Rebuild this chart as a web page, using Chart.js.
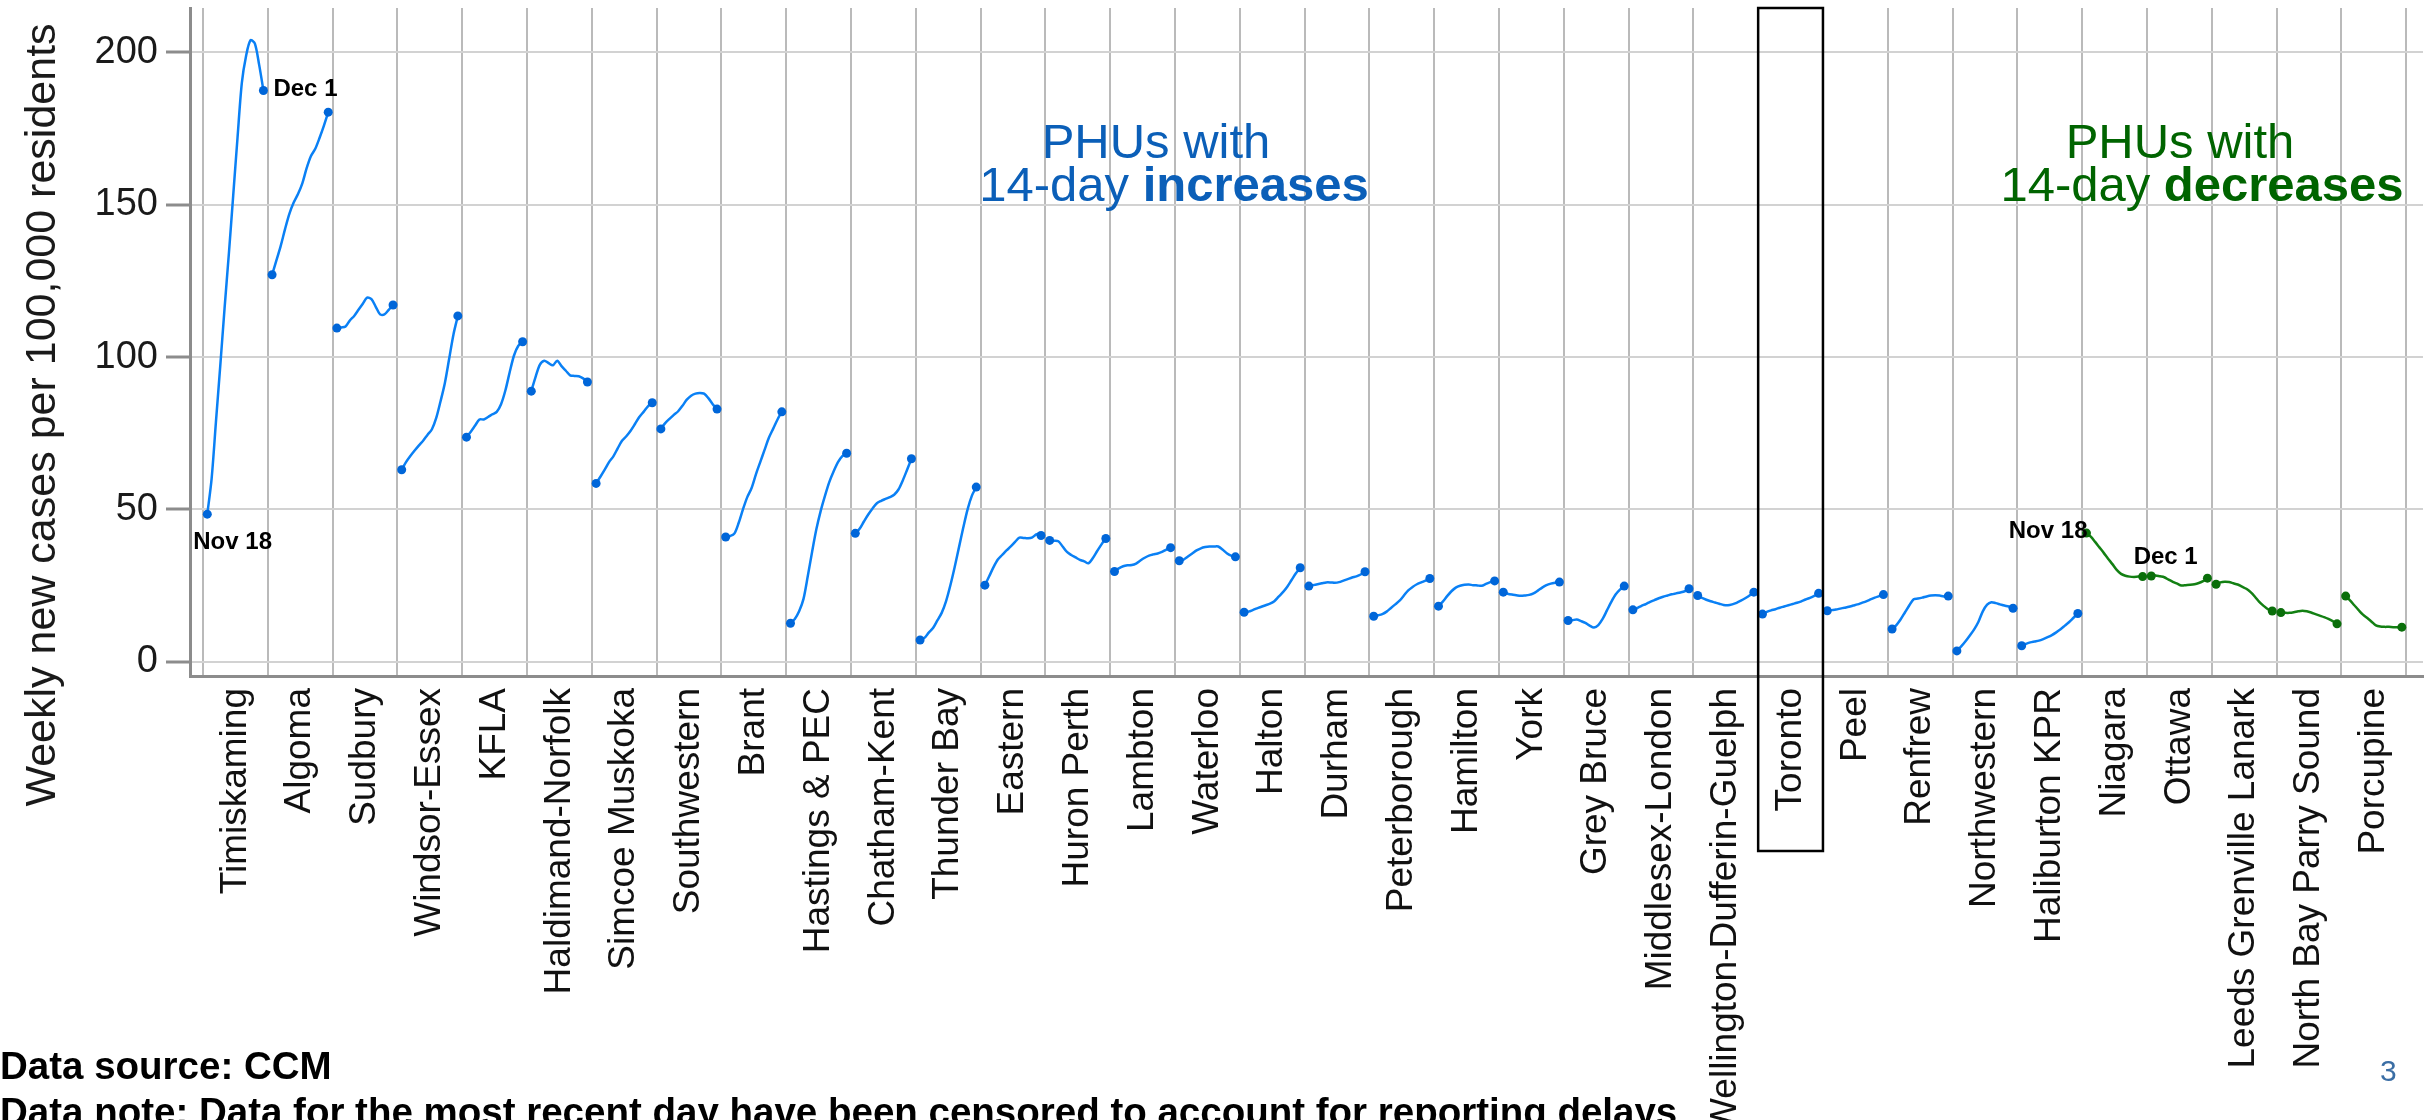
<!DOCTYPE html>
<html>
<head>
<meta charset="utf-8">
<title>Weekly new cases per 100,000 residents by PHU</title>
<script src="https://cdn.jsdelivr.net/npm/chart.js@4.4.0/dist/chart.umd.min.js"></script>
<style>
  html, body { margin: 0; padding: 0; background: #fff; }
  #wrap { position: relative; width: 2435px; height: 1120px; overflow: hidden; }
  canvas { position: absolute; left: 0; top: 0; }
  .note { position: absolute; left: 0; font: bold 38.5px "Liberation Sans", Arial, sans-serif; line-height: 38px; color: #000; white-space: nowrap; }
  .page { position: absolute; left: 2380px; top: 1056px; font: 30px "Liberation Sans", Arial, sans-serif; line-height: 30px; color: #3b6ea5; }
</style>
</head>
<body>
<div id="wrap">
  <canvas id="chart" width="2435" height="1120"></canvas>
  <div class="note" style="top:1047px">Data source: CCM</div>
  <div class="note" style="top:1093px">Data note: Data for the most recent day have been censored to account for reporting delays</div>
  <div class="page">3</div>
</div>
<script>
// 14 days shown for each PHU
const days = ["Nov 18", "Nov 19", "Nov 20", "Nov 21", "Nov 22", "Nov 23", "Nov 24",
  "Nov 25", "Nov 26", "Nov 27", "Nov 28", "Nov 29", "Nov 30", "Dec 1"];

const phuIncreasing = ["Timiskaming", "Algoma", "Sudbury", "Windsor-Essex", "KFLA",
  "Haldimand-Norfolk", "Simcoe Muskoka", "Southwestern", "Brant", "Hastings & PEC",
  "Chatham-Kent", "Thunder Bay", "Eastern", "Huron Perth", "Lambton", "Waterloo",
  "Halton", "Durham", "Peterborough", "Hamilton", "York", "Grey Bruce",
  "Middlesex-London", "Wellington-Dufferin-Guelph", "Toronto", "Peel", "Renfrew",
  "Northwestern", "Haliburton KPR"];
const phuDecreasing = ["Niagara", "Ottawa", "Leeds Grenville Lanark",
  "North Bay Parry Sound", "Porcupine"];

const yTicks = [0, 50, 100, 150, 200];

// weekly new cases per 100,000, Nov 18 .. Dec 1
const timiskaming = [48.4, 60, 78.6, 97, 116, 134, 153, 172, 190, 199, 204, 203, 196, 187.5];
const algoma = [127, 131.7, 136.5, 142, 147, 150.7, 153.5, 157, 162, 166, 168.4, 172, 176, 180.4];
const sudbury = [109.5, 109.7, 110, 112, 113.5, 115.5, 117.5, 119.5, 119, 116.5, 114, 114, 115.5, 117.1];
const windsorEssex = [63, 65.5, 67.5, 69.3, 71, 72.6, 74.5, 76.3, 80, 85.5, 91.5, 99.5, 107.5, 113.5];
const kfla = [73.7, 75.5, 77.5, 79.5, 79.5, 80.3, 81.2, 82, 84.5, 89, 95, 100.5, 103.7, 105];
const haldimandNorfolk = [88.8, 93.5, 97.5, 98.8, 98, 97.3, 98.8, 97, 95.5, 94, 93.8, 93.7, 93, 91.8];
const simcoeMuskoka = [58.5, 60.7, 63, 65.5, 67.4, 70, 72.5, 74, 75.8, 78, 80.3, 82, 83.8, 85];
const southwestern = [76.4, 78.3, 79.7, 81, 82.2, 84, 86, 87.3, 88, 88.2, 88, 86.5, 84.5, 82.9];
const brant = [40.9, 41.2, 42, 45.5, 50, 54, 57, 61.5, 65.5, 69.5, 73.5, 76.5, 79.5, 82];
const hastingsPec = [12.6, 14, 16.5, 20.5, 28, 36, 43.5, 49.5, 54.5, 59, 62.5, 65.5, 67.5, 68.4];
const chathamKent = [42.1, 43.6, 46, 48.3, 50.3, 52, 52.8, 53.4, 54, 54.8, 56.5, 59.5, 63, 66.6];
const thunderBay = [7.1, 7.8, 9.5, 11, 13.5, 16, 19.8, 25, 31, 37.5, 44, 50, 54.5, 57.3];
const eastern = [25.1, 28, 31, 33.5, 35, 36.5, 37.8, 39.3, 40.7, 40.6, 40.5, 40.8, 41.8, 41.4];
const huronPerth = [39.8, 39.7, 39.5, 37.8, 36, 35, 34.2, 33.4, 32.9, 32.3, 34, 36.3, 38.5, 40.4];
const lambton = [29.6, 30.6, 31.3, 31.6, 31.7, 32.2, 33.2, 34.1, 34.8, 35.2, 35.5, 36, 36.8, 37.4];
const waterloo = [33.1, 33.5, 34.5, 35.5, 36.5, 37.2, 37.6, 37.8, 37.8, 37.8, 36.8, 35.6, 34.8, 34.4];
const halton = [16.2, 16.4, 16.9, 17.5, 18, 18.5, 19, 19.8, 21.3, 22.8, 24.6, 26.8, 29, 30.8];
const durham = [24.8, 25.1, 25.4, 25.7, 26, 26, 25.9, 26.1, 26.6, 27.1, 27.6, 28, 28.6, 29.5];
const peterborough = [14.9, 15.2, 15.6, 16.4, 17.6, 18.8, 20, 21.7, 23.4, 24.5, 25.4, 26, 26.6, 27.3];
const hamilton = [18.2, 19.7, 21.5, 23.1, 24.3, 24.9, 25.2, 25.3, 25.1, 25, 24.9, 25.5, 26.1, 26.5];
const york = [22.8, 22.3, 22, 21.8, 21.6, 21.7, 21.9, 22.4, 23.3, 24.3, 25.1, 25.6, 25.9, 26.1];
const greyBruce = [13.5, 13.6, 13.8, 13.3, 12.7, 11.8, 11.2, 12, 14, 16.8, 19.6, 22, 23.6, 24.8];
const middlesexLondon = [17, 17.6, 18.3, 18.9, 19.6, 20.2, 20.8, 21.3, 21.7, 22.1, 22.4, 22.7, 23.1, 23.9];
const wellingtonDufferinGuelph = [21.7, 20.9, 20.3, 19.8, 19.4, 19, 18.6, 18.5, 18.8, 19.3, 20, 20.8, 21.7, 22.8];
const toronto = [15.6, 16.3, 16.8, 17.2, 17.7, 18.1, 18.5, 18.9, 19.3, 19.8, 20.4, 20.9, 21.6, 22.4];
const peel = [16.7, 16.9, 17.1, 17.4, 17.7, 18, 18.4, 18.8, 19.3, 19.8, 20.4, 21, 21.5, 22];
const renfrew = [10.7, 12, 13.9, 16.2, 18.5, 20.5, 20.7, 21, 21.4, 21.7, 21.8, 21.7, 21.4, 21.5];
const northwestern = [3.5, 5, 6.7, 8.6, 10.6, 13.1, 16.5, 18.7, 19.5, 19.2, 18.8, 18.4, 18.1, 17.5];
const haliburtonKpr = [5.2, 5.8, 6.3, 6.6, 6.9, 7.4, 8, 8.7, 9.6, 10.6, 11.8, 13, 14.4, 15.8];
const niagara = [42.2, 41, 39.3, 37.5, 35.7, 33.8, 32, 30.1, 28.8, 28.2, 27.9, 27.8, 27.9, 27.9];
const ottawa = [28.1, 28.3, 28, 27.7, 26.9, 26.2, 25.6, 25, 25.1, 25.2, 25.4, 25.8, 26.4, 27.4];
const leedsGrenvilleLanark = [25.4, 26, 26.2, 26.1, 25.7, 25.3, 24.6, 23.9, 22.8, 21.3, 19.6, 18.3, 17.2, 16.6];
const northBayParrySound = [16.1, 16, 16, 16.2, 16.5, 16.7, 16.5, 16.1, 15.6, 15.1, 14.6, 14, 13.3, 12.4];
const porcupine = [21.5, 20.1, 18.5, 16.9, 15.4, 14.3, 13.1, 11.9, 11.5, 11.4, 11.4, 11.3, 11.3, 11.3];

const categories = phuIncreasing.concat(phuDecreasing);
const seriesValues = [timiskaming, algoma, sudbury, windsorEssex, kfla, haldimandNorfolk,
  simcoeMuskoka, southwestern, brant, hastingsPec, chathamKent, thunderBay, eastern,
  huronPerth, lambton, waterloo, halton, durham, peterborough, hamilton, york, greyBruce,
  middlesexLondon, wellingtonDufferinGuelph, toronto, peel, renfrew, northwestern,
  haliburtonKpr, niagara, ottawa, leedsGrenvilleLanark, northBayParrySound, porcupine];

const FONT = '"Liberation Sans", Arial, sans-serif';
const BLUE_LINE = "#0a80f5";
const BLUE_DOT = "#0066d9";
const GREEN_LINE = "#138013";
const GREEN_DOT = "#0a6e0a";
const lastDay = days.length - 1;

// each PHU gets one unit on x; its days sit at i + (d+1)/15
const datasets = categories.map((name, i) => {
  const up = i < phuIncreasing.length;
  return {
    label: name,
    data: seriesValues[i].map((v, d) => ({ x: i + (d + 1) / (days.length + 1), y: v })),
    borderColor: up ? BLUE_LINE : GREEN_LINE,
    backgroundColor: up ? BLUE_DOT : GREEN_DOT,
    borderWidth: 2.5,
    tension: 0.3,
    pointRadius: (ctx) => (ctx.dataIndex === 0 || ctx.dataIndex === lastDay ? 4.5 : 0),
    pointBackgroundColor: up ? BLUE_DOT : GREEN_DOT,
    pointBorderWidth: 0,
  };
});

// draw a line of text made of normal/bold parts, centred on cx
function drawParts(ctx, parts, cx, baseline, size, color) {
  ctx.fillStyle = color;
  ctx.textBaseline = "alphabetic";
  ctx.textAlign = "left";
  const widths = parts.map((p) => {
    ctx.font = `${p.bold ? "bold " : ""}${size}px ${FONT}`;
    return ctx.measureText(p.text).width;
  });
  let x = cx - widths.reduce((a, b) => a + b, 0) / 2;
  parts.forEach((p, k) => {
    ctx.font = `${p.bold ? "bold " : ""}${size}px ${FONT}`;
    ctx.fillText(p.text, x, baseline);
    x += widths[k];
  });
}

const notesPlugin = {
  id: "phuNotes",
  afterDatasetsDraw(chart) {
    const { ctx, chartArea } = chart;
    const xs = chart.scales.x;
    ctx.save();

    // box round Toronto
    const ti = categories.indexOf("Toronto");
    const bx0 = xs.getPixelForValue(ti);
    const bx1 = xs.getPixelForValue(ti + 1);
    ctx.strokeStyle = "#000";
    ctx.lineWidth = 2.5;
    ctx.strokeRect(bx0, chartArea.top, bx1 - bx0, chartArea.bottom + 175 - chartArea.top);

    // date labels beside the first increasing and first decreasing PHU
    ctx.font = `bold 24px ${FONT}`;
    ctx.fillStyle = "#000";
    ctx.textBaseline = "middle";
    const blue = chart.getDatasetMeta(0).data;
    ctx.textAlign = "left";
    ctx.fillText(days[0], blue[0].x - 14, blue[0].y + 28);
    ctx.fillText(days[lastDay], blue[lastDay].x + 10, blue[lastDay].y - 1);
    const green = chart.getDatasetMeta(phuIncreasing.length).data;
    ctx.textAlign = "right";
    ctx.fillText(days[0], green[0].x + 1, green[0].y - 2);
    ctx.textAlign = "left";
    ctx.fillText(days[lastDay], green[lastDay].x - 9, green[lastDay].y - 19);

    // group headings
    drawParts(ctx, [{ text: "PHUs with" }], 1156, 158, 49, "#0b5fb8");
    drawParts(ctx, [{ text: "14-day " }, { text: "increases", bold: true }], 1174, 201, 49, "#0b5fb8");
    drawParts(ctx, [{ text: "PHUs with" }], 2180, 158, 49, "#006400");
    drawParts(ctx, [{ text: "14-day " }, { text: "decreases", bold: true }], 2202, 201, 49, "#006400");

    // y axis title
    ctx.translate(43, 415);
    ctx.rotate(-Math.PI / 2);
    ctx.font = `43px ${FONT}`;
    ctx.fillStyle = "#1a1a1a";
    ctx.textAlign = "center";
    ctx.textBaseline = "middle";
    ctx.fillText("Weekly new cases per 100,000 residents", 0, 0);
    ctx.restore();
  },
};

// keep the plot box where the reference has it: no extra room for label overhang
function noOverhang(axis) {
  axis.paddingLeft = 0;
  axis.paddingRight = 0;
  axis.paddingTop = 0;
  axis.paddingBottom = 0;
}

new Chart(document.getElementById("chart"), {
  type: "line",
  data: { datasets },
  plugins: [notesPlugin],
  options: {
    responsive: false,
    animation: false,
    devicePixelRatio: 1,
    layout: { padding: { top: 8, right: 12, left: 0, bottom: 0 } },
    plugins: { legend: { display: false }, tooltip: { enabled: false } },
    scales: {
      x: {
        type: "linear",
        min: -0.2,
        max: 34.26,
        afterBuildTicks: (axis) => {
          const t = [];
          for (let v = 0; v <= categories.length; v += 0.5) t.push({ value: v });
          axis.ticks = t;
        },
        afterFit: (axis) => { axis.height = 444; noOverhang(axis); },
        grid: {
          color: (ctx) => (Number.isInteger(ctx.tick.value) ? "#bababa" : "rgba(0,0,0,0)"),
          lineWidth: 2,
          drawTicks: false,
        },
        border: { color: "#8c8c8c", width: 3 },
        ticks: {
          autoSkip: false,
          maxRotation: 90,
          minRotation: 90,
          padding: 12,
          color: "#111",
          font: { family: FONT, size: 37 },
          callback: (value) => {
            const i = Math.floor(value);
            return value - i === 0.5 ? categories[i] : "";
          },
        },
      },
      y: {
        min: -4.73,
        max: 214.6,
        afterBuildTicks: (axis) => { axis.ticks = yTicks.map((v) => ({ value: v })); },
        afterFit: (axis) => { axis.width = 190; noOverhang(axis); },
        grid: { color: "#d2d2d2", lineWidth: 2, tickLength: 24, tickColor: "#8c8c8c", tickWidth: 3 },
        border: { color: "#8c8c8c", width: 3 },
        ticks: { padding: 8, color: "#1a1a1a", font: { family: FONT, size: 38 } },
      },
    },
  },
});
</script>
</body>
</html>
